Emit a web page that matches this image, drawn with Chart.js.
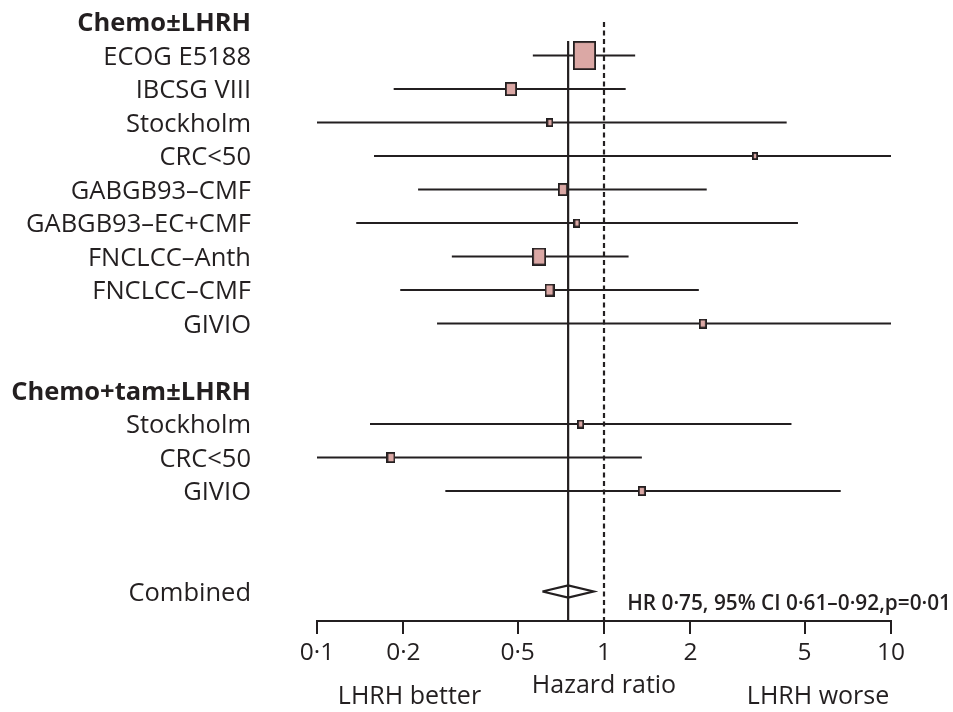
<!DOCTYPE html>
<html>
<head>
<meta charset="utf-8">
<script src="https://cdn.jsdelivr.net/npm/chart.js@4.4.1/dist/chart.umd.min.js"></script>
<style>
  html, body { margin: 0; padding: 0; background: #fff; }
  #wrap { width: 953px; height: 712px; }
</style>
</head>
<body>
<div id="wrap"><canvas id="forest"></canvas></div>
<script>
// --------------------
// DATA
// --------------------
const rowLabels = [
  "Chemo±LHRH", "ECOG E5188", "IBCSG VIII", "Stockholm", "CRC<50", "GABGB93–CMF",
  "GABGB93–EC+CMF", "FNCLCC–Anth", "FNCLCC–CMF", "GIVIO", "",
  "Chemo+tam±LHRH", "Stockholm", "CRC<50", "GIVIO", "", "", "Combined",
];
const headingRows = [0, 11];

const studyRows = [1, 2, 3, 4, 5, 6, 7, 8, 9, 12, 13, 14];
const hazardRatio = [0.855, 0.474, 0.648, 3.36, 0.719, 0.805, 0.594, 0.646, 2.21, 0.829, 0.181, 1.355];
const ciLow = [0.565, 0.185, 0.1, 0.158, 0.225, 0.137, 0.295, 0.195, 0.262, 0.153, 0.1, 0.28];
const ciHigh = [1.284, 1.19, 4.33, 10, 2.28, 4.74, 1.218, 2.14, 10, 4.5, 1.355, 6.68];
const weights = [40.1, 9.9, 4.0, 3.0, 7.6, 4.0, 14.6, 7.6, 4.7, 3.6, 5.4, 4.7];

const pooledRow = 17;
const pooledHR = 0.75;
const pooledLow = 0.61;
const pooledHigh = 0.92;
const pooledText = "HR 0·75, 95% CI 0·61–0·92,p=0·01";

const tickValues = [0.1, 0.2, 0.5, 1, 2, 5, 10];
const tickLabels = ["0·1", "0·2", "0·5", "1", "2", "5", "10"];

// --------------------
// STYLE
// --------------------
const INK = "#231f20";
const BOX_FILL = "#dba8a5";
const FONT = "'Open Sans', 'DejaVu Sans', sans-serif";
const ROW_MAX = 17.88; // axis line sits a little below the last row
const DIAMOND_HALF = 0.18;
const POOLED_LINE_TOP = 0.57;

// weighted boxes as small canvases (used as point styles)
function makeBox(weight) {
  const h = 4.6 * Math.sqrt(weight);
  const w = 0.8 * h;
  const c = document.createElement("canvas");
  c.width = Math.max(6, Math.round(w));
  c.height = Math.round(h);
  const g = c.getContext("2d");
  g.fillStyle = BOX_FILL;
  g.fillRect(0, 0, c.width, c.height);
  g.strokeStyle = INK;
  g.lineWidth = 1.8;
  g.strokeRect(0.9, 0.9, c.width - 1.8, c.height - 1.8);
  return c;
}

// --------------------
// DATASETS
// --------------------
const lineStyle = { showLine: true, pointRadius: 0, borderColor: INK, borderWidth: 2.2, order: 2 };

const ciSets = studyRows.map((row, i) => ({
  ...lineStyle,
  data: [{ x: ciLow[i], y: row }, { x: ciHigh[i], y: row }],
}));

const boxSet = {
  data: studyRows.map((row, i) => ({ x: hazardRatio[i], y: row })),
  pointStyle: weights.map(makeBox),
  pointRadius: 10,
  order: 0,
};

const diamondSet = {
  ...lineStyle,
  order: 1,
  data: [
    { x: pooledLow, y: pooledRow },
    { x: pooledHR, y: pooledRow - DIAMOND_HALF },
    { x: pooledHigh, y: pooledRow },
    { x: pooledHR, y: pooledRow + DIAMOND_HALF },
    { x: pooledLow, y: pooledRow },
  ],
};

const pooledLine = {
  ...lineStyle,
  data: [{ x: pooledHR, y: POOLED_LINE_TOP }, { x: pooledHR, y: ROW_MAX }],
};

const noEffectLine = {
  ...lineStyle,
  borderDash: [5, 3.5],
  data: [{ x: 1, y: 0 }, { x: 1, y: ROW_MAX }],
};

// --------------------
// EXTRA TEXT
// --------------------
const notes = {
  id: "notes",
  afterDraw(chart) {
    const ctx = chart.ctx;
    const xs = chart.scales.x;
    ctx.save();
    ctx.fillStyle = INK;
    ctx.textBaseline = "alphabetic";
    ctx.font = "25px " + FONT;
    ctx.textAlign = "center";
    ctx.fillText("LHRH better", xs.getPixelForValue(0.21), 704);
    ctx.fillText("LHRH worse", xs.getPixelForValue(5.57), 704);
    ctx.font = "600 20.8px " + FONT;
    ctx.textAlign = "right";
    ctx.fillText(pooledText, chart.width - 2, 610);
    ctx.restore();
  },
};

// --------------------
// CHART
// --------------------
new Chart(document.getElementById("forest"), {
  type: "scatter",
  data: { datasets: [boxSet, diamondSet, pooledLine, noEffectLine, ...ciSets] },
  options: {
    responsive: true,
    maintainAspectRatio: false,
    animation: false,
    layout: { padding: { top: 22, right: 62, left: 0, bottom: 0 } },
    plugins: { legend: { display: false }, tooltip: { enabled: false } },
    scales: {
      x: {
        type: "logarithmic",
        min: 0.1,
        max: 10,
        afterBuildTicks: (s) => { s.ticks = tickValues.map((v) => ({ value: v })); },
        afterFit: (s) => { s.height = 91; },
        border: { display: true, color: INK, width: 2 },
        grid: { drawOnChartArea: false, drawTicks: true, tickLength: 13, color: INK, lineWidth: 2 },
        ticks: {
          autoSkip: false,
          maxRotation: 0,
          padding: 4,
          color: INK,
          font: { family: FONT, size: 24.5 },
          callback: (v) => tickLabels[tickValues.indexOf(v)],
        },
        title: {
          display: true,
          text: "Hazard ratio",
          color: INK,
          font: { family: FONT, size: 25, lineHeight: 1.2 },
          padding: { top: 0, bottom: 11 },
        },
      },
      y: {
        type: "linear",
        reverse: true,
        min: 0,
        max: ROW_MAX,
        afterBuildTicks: (s) => { s.ticks = rowLabels.map((_, i) => ({ value: i })); },
        afterFit: (s) => { s.width = 317; },
        border: { display: false },
        // hidden tick marks only reserve the gap between labels and plot
        grid: { display: false, drawTicks: true, tickLength: 66 },
        ticks: {
          autoSkip: false,
          padding: 0,
          labelOffset: 2,
          crossAlign: "near",
          color: INK,
          font: (ctx) => ({
            family: FONT,
            size: 25.5,
            weight: headingRows.includes(ctx.index) ? "bold" : "normal",
          }),
          callback: (v) => rowLabels[v] || "",
        },
      },
    },
  },
  plugins: [notes],
});
</script>
</body>
</html>
